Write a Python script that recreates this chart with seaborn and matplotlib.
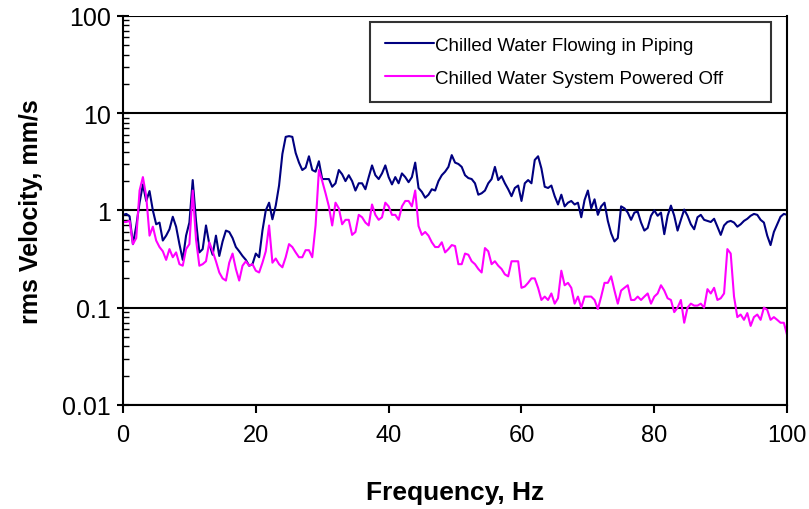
import numpy as np
import pandas as pd
import matplotlib
matplotlib.use("Agg")
import matplotlib.pyplot as plt
import matplotlib.ticker as mticker
import seaborn as sns

# values, one every 0.5 Hz from 0 to 100 Hz
flowing = [
    0.90, 0.92, 0.87, 0.45, 0.69, 1.2, 1.85, 1.25, 1.58, 1.0,
    0.72, 0.75, 0.49, 0.55, 0.64, 0.86, 0.68, 0.45, 0.31, 0.55,
    0.75, 2.05, 0.78, 0.37, 0.40, 0.70, 0.45, 0.35, 0.55, 0.34,
    0.48, 0.62, 0.60, 0.52, 0.42, 0.38, 0.34, 0.31, 0.27, 0.28,
    0.36, 0.33, 0.62, 1.0, 1.2, 0.81, 1.12, 1.8, 3.8, 5.7,
    5.8, 5.7, 3.9, 3.1, 2.6, 2.75, 3.6, 2.6, 2.5, 3.2,
    2.1, 2.1, 2.1, 1.75, 1.9, 2.6, 2.35, 2.0, 2.3, 2.0,
    1.6, 1.9, 1.9, 1.65, 2.2, 2.9, 2.3, 2.1, 2.4, 2.9,
    2.2, 1.85, 2.2, 1.9, 2.4, 2.2, 1.95, 2.2, 3.1, 1.7,
    1.55, 1.35, 1.45, 1.65, 1.6, 2.0, 2.3, 2.5, 2.8, 3.7,
    3.1, 3.0, 2.8, 2.3, 2.15, 2.1, 1.9, 1.45, 1.5, 1.6,
    1.9, 2.1, 2.8, 2.05, 2.25, 1.9, 1.65, 1.4, 1.7, 1.8,
    1.25, 1.9, 2.05, 1.9, 3.3, 3.6, 2.7, 1.75, 1.7, 1.8,
    1.4, 1.15, 1.45, 1.1, 1.2, 1.25, 1.15, 1.2, 0.85, 1.28,
    1.6, 1.05, 1.3, 0.9, 1.1, 1.2, 0.78, 0.58, 0.48, 0.52,
    1.1, 1.05, 0.95, 0.8, 0.95, 0.97, 0.75, 0.62, 0.66, 0.88,
    1.0, 0.88, 0.95, 0.57, 0.88, 1.12, 0.88, 0.62, 0.8, 1.02,
    0.88, 0.72, 0.64, 0.85, 0.9, 0.8, 0.78, 0.76, 0.82, 0.68,
    0.56, 0.7, 0.76, 0.78, 0.75, 0.68, 0.72, 0.78, 0.82, 0.88,
    0.92, 0.9, 0.8, 0.75, 0.55, 0.44, 0.6, 0.72, 0.86, 0.92,
    0.90,
]
powered_off = [
    0.76, 0.76, 0.78, 0.45, 0.52, 1.6, 2.2, 1.4, 0.55, 0.68,
    0.49, 0.42, 0.38, 0.31, 0.40, 0.33, 0.37, 0.28, 0.27, 0.40,
    0.45, 1.6, 0.50, 0.27, 0.28, 0.30, 0.47, 0.38, 0.30, 0.23,
    0.20, 0.19, 0.29, 0.36, 0.25, 0.19, 0.27, 0.30, 0.27, 0.28,
    0.24, 0.23, 0.29, 0.38, 0.70, 0.29, 0.32, 0.28, 0.26, 0.33,
    0.45, 0.42, 0.37, 0.33, 0.33, 0.39, 0.39, 0.33, 0.70, 2.6,
    2.0, 1.5, 1.1, 0.70, 1.2, 1.05, 0.72, 0.80, 0.80, 0.56,
    0.60, 0.90, 0.85, 0.75, 0.70, 1.15, 0.90, 0.80, 0.85, 1.2,
    1.1, 0.90, 0.90, 0.80, 1.1, 1.25, 1.25, 1.1, 1.6, 0.69,
    0.56, 0.60, 0.55, 0.47, 0.42, 0.42, 0.47, 0.37, 0.40, 0.44,
    0.43, 0.28, 0.28, 0.36, 0.35, 0.30, 0.28, 0.25, 0.23, 0.41,
    0.38, 0.28, 0.30, 0.27, 0.25, 0.22, 0.21, 0.30, 0.30, 0.30,
    0.16, 0.165, 0.18, 0.20, 0.20, 0.16, 0.12, 0.13, 0.12, 0.14,
    0.11, 0.125, 0.24, 0.17, 0.18, 0.16, 0.11, 0.13, 0.10, 0.13,
    0.13, 0.13, 0.12, 0.097, 0.13, 0.18, 0.18, 0.21, 0.15, 0.11,
    0.15, 0.16, 0.17, 0.12, 0.12, 0.13, 0.12, 0.13, 0.14, 0.11,
    0.13, 0.14, 0.17, 0.15, 0.125, 0.12, 0.09, 0.10, 0.12, 0.07,
    0.10, 0.11, 0.105, 0.105, 0.11, 0.10, 0.155, 0.14, 0.16, 0.12,
    0.125, 0.14, 0.40, 0.36, 0.13, 0.08, 0.085, 0.075, 0.088, 0.065,
    0.08, 0.085, 0.075, 0.10, 0.095, 0.075, 0.08, 0.075, 0.07, 0.07,
    0.052,
]
series_names = ["Chilled Water Flowing in Piping",
                "Chilled Water System Powered Off"]
y_ticks = [0.01, 0.1, 1, 10, 100]
x_ticks = [0, 20, 40, 60, 80, 100]


def main():
    df = pd.concat([
        pd.DataFrame({"freq": np.linspace(0, 100, len(flowing)),
                      "vel": flowing, "series": series_names[0]}),
        pd.DataFrame({"freq": np.linspace(0, 100, len(powered_off)),
                      "vel": powered_off, "series": series_names[1]}),
    ], ignore_index=True)

    sns.set_style("white")
    plt.rcParams["font.family"] = ["Liberation Sans", "DejaVu Sans"]
    for key in ["text.color", "axes.labelcolor", "xtick.color", "ytick.color"]:
        plt.rcParams[key] = "black"

    fig = plt.figure(figsize=(8.09, 5.10), dpi=100)
    ax = fig.add_axes([0.152, 0.204, 0.821, 0.763])

    sns.lineplot(data=df, x="freq", y="vel", hue="series", estimator=None,
                 palette=["#000080", "#FF00FF"], linewidth=1.5, ax=ax)

    ax.set_yscale("log")
    ax.set_ylim(0.01, 100)
    ax.set_xlim(0, 100)
    ax.set_yticks(y_ticks)
    ax.yaxis.set_major_formatter(mticker.FuncFormatter(lambda v, p: f"{v:g}"))
    ax.yaxis.set_minor_locator(mticker.LogLocator(base=10, subs=np.arange(2, 10)))
    ax.yaxis.set_minor_formatter(mticker.NullFormatter())
    ax.set_xticks(x_ticks)

    ax.yaxis.grid(True, which="major", color="black", linewidth=1.5)
    ax.xaxis.grid(False)
    ax.set_axisbelow(True)

    for side in ["left", "bottom", "right", "top"]:
        ax.spines[side].set_color("black")
        ax.spines[side].set_linewidth(1.5)
    ax.spines["top"].set_visible(False)

    ax.tick_params(axis="y", which="major", direction="inout", length=9,
                   width=1.5, left=True, labelsize=18, pad=4)
    ax.tick_params(axis="y", which="minor", direction="in", length=4,
                   width=1.0, left=True)
    ax.tick_params(axis="x", which="major", direction="out", length=6,
                   width=1.5, bottom=True, labelsize=17, pad=8)

    ax.set_xlabel("Frequency, Hz", fontsize=19, fontweight="bold", labelpad=24)
    ax.set_ylabel("rms Velocity, mm/s", fontsize=18, fontweight="bold", labelpad=14)

    leg = ax.legend(loc="upper left", bbox_to_anchor=(0.372, 0.5, 0.604, 0.485),
                    mode="expand", fontsize=13.5, frameon=True, fancybox=False,
                    edgecolor="black", handlelength=2.6, handletextpad=0.05,
                    borderpad=0.8, labelspacing=0.85, borderaxespad=0)
    leg.get_frame().set_linewidth(1.5)
    leg.set_title(None)

    fig.savefig("out.png", dpi=100)
    plt.close(fig)


if __name__ == "__main__":
    main()
